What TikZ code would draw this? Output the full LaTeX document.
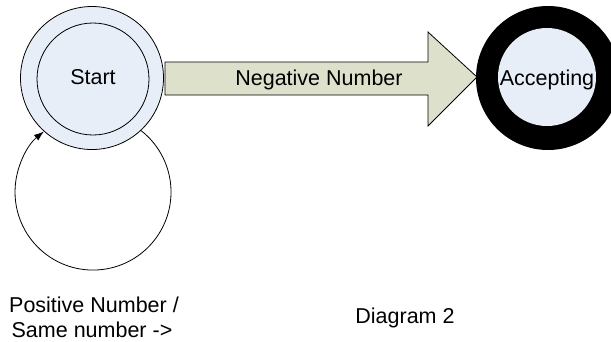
\documentclass[tikz,border=0pt]{standalone}
\usepackage{fontspec}
\setmainfont{Liberation Sans}
\usetikzlibrary{arrows.meta}
\definecolor{stfill}{RGB}{232,238,248}
\definecolor{arfill}{RGB}{221,225,204}
\begin{document}
\begin{tikzpicture}[x=1pt,y=-1pt,
  every node/.style={font=\fontsize{21.5}{25}\selectfont},
  ring/.style={circle,draw=black,line width=0.8pt,fill=stfill,inner sep=0pt},
  lbl/.style={inner sep=0pt,anchor=base}]
\useasboundingbox (0,0) rectangle (611,341);
\clip (0,0) rectangle (611,341);
% start state
\node[ring,minimum size=143pt] (start) at (92,78) {};
\node[ring,minimum size=112pt] (startin) at (93,79) {};
\node[lbl] (starttxt) at (93,84) {Start};
% accepting state
\node[circle,fill=black,inner sep=0pt,minimum size=144pt] (acc) at (548,78) {};
\node[circle,fill=stfill,inner sep=0pt,minimum size=98pt] (accin) at (547,77) {};
\node[lbl] (acctxt) at (547,85) {Accepting};
% block arrow
\draw[line width=0.8pt,fill=arfill] (165,62) -- (428,62) -- (428,32) -- (477,77)
  -- (428,126) -- (428,95) -- (165,95) -- cycle;
\node[lbl] (neg) at (319,85) {Negative Number};
% self loop
\draw[line width=0.8pt,-{Latex[length=10pt,width=7pt]}] (start.-47.4)
  arc[start angle=52,end angle=-231,radius=78pt];
% labels
\node[lbl] (loop1) at (94,312) {Positive Number /};
\node[lbl] (loop2) at (92,337) {Same number ->};
\node[lbl] (diag) at (405,323) {Diagram 2};
\end{tikzpicture}
\end{document}
